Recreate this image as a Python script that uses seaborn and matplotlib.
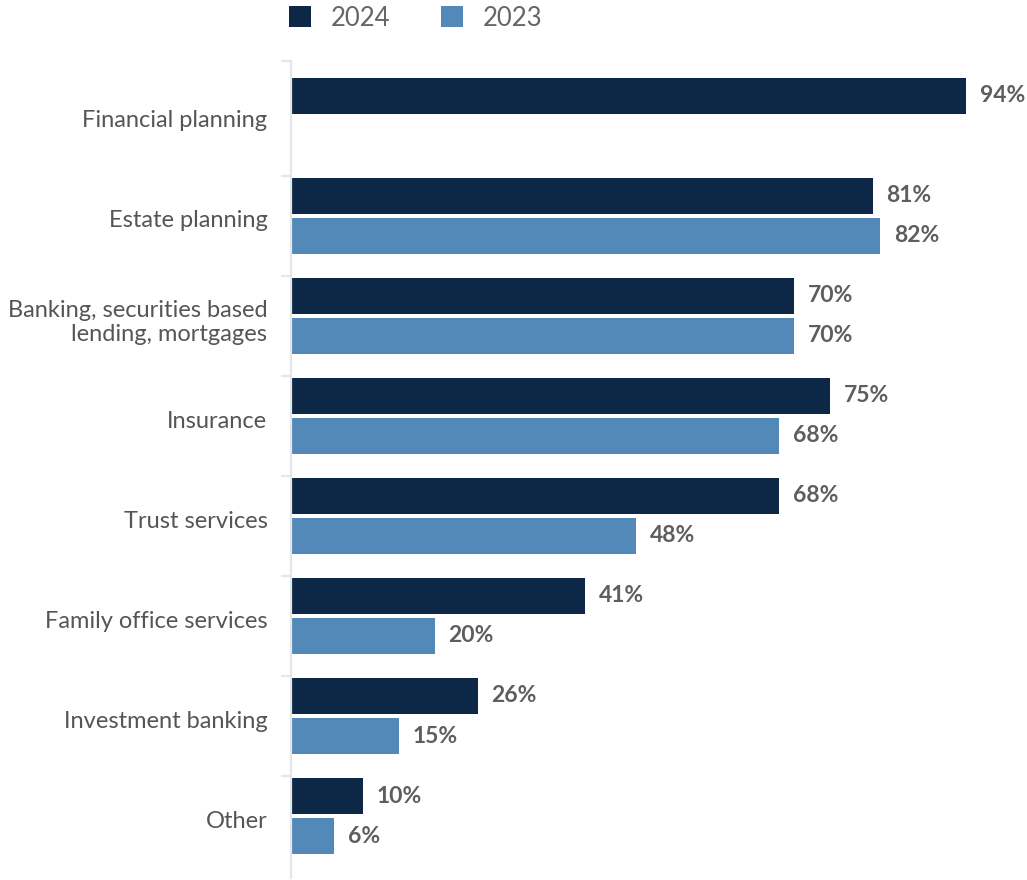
import matplotlib
matplotlib.use("Agg")
import matplotlib.pyplot as plt
import matplotlib.transforms as mtransforms
import seaborn as sns
import pandas as pd
import numpy as np

categories = [
    "Financial planning",
    "Estate planning",
    "Banking, securities based\nlending, mortgages",
    "Insurance",
    "Trust services",
    "Family office services",
    "Investment banking",
    "Other",
]
values_2024 = [94, 81, 70, 75, 68, 41, 26, 10]
values_2023 = [np.nan, 82, 70, 68, 48, 20, 15, 6]
years = ["2024", "2023"]

NAVY = "#0c2846"
STEEL = "#5289b8"
LABEL_GRAY = "#555555"
VALUE_GRAY = "#5e5e5e"
AXIS_GRAY = "#e3e7ec"

sns.set_theme(style="white")
plt.rcParams["font.family"] = ["Lato", "DejaVu Sans"]

df = pd.DataFrame({
    "category": categories * 2,
    "year": ["2024"] * len(categories) + ["2023"] * len(categories),
    "value": values_2024 + values_2023,
})

fig = plt.figure(figsize=(10.27, 8.8), dpi=100)
ax = fig.add_axes([291 / 1027, 2 / 880, (1009 - 291) / 1027, (878 - 61) / 880])

sns.barplot(
    data=df.dropna(), x="value", y="category", hue="year",
    order=categories, hue_order=years,
    palette={"2024": NAVY, "2023": STEEL},
    orient="h", width=0.8, gap=0.08, errorbar=None,
    saturation=1, linewidth=0, ax=ax,
)

ax.set_xlim(0, 100)
ax.set_ylim(7.62, -0.55)

# value labels beside each bar
for container in ax.containers:
    for patch in container:
        w = patch.get_width()
        if np.isnan(w):
            continue
        ax.annotate(
            f"{w:.0f}%",
            (w, patch.get_y() + patch.get_height() / 2),
            xytext=(10, 0), textcoords="offset points",
            ha="left", va="center",
            fontsize=16.5, fontweight="bold", color=VALUE_GRAY,
        )

# axis styling: only the left spine with small separator ticks
for side in ["top", "right", "bottom"]:
    ax.spines[side].set_visible(False)
ax.spines["left"].set_color(AXIS_GRAY)
ax.spines["left"].set_linewidth(1.6)
ax.set_xticks([])
ax.set_xlabel("")
ax.set_ylabel("")
ax.set_yticks(range(len(categories)))
ax.set_yticklabels(categories, fontsize=17, color=LABEL_GRAY, ha="right",
                   multialignment="right")
ax.tick_params(axis="y", which="major", length=0, pad=17)
shift = mtransforms.ScaledTranslation(0, -3 / 100, fig.dpi_scale_trans)
for lbl in ax.get_yticklabels():
    lbl.set_transform(lbl.get_transform() + shift)
ax.set_yticks([-0.55] + [i + 0.6 for i in range(len(categories) - 1)], minor=True)
ax.tick_params(axis="y", which="minor", length=7, width=1.6, color=AXIS_GRAY, left=True)

# legend across the top
handles, labels = ax.get_legend_handles_labels()
for h in handles:
    h.set_linewidth(0)
ax.legend(
    handles, labels, ncol=2, frameon=False,
    loc="center left", bbox_to_anchor=(279 / 1027, 1 - 18 / 880),
    bbox_transform=fig.transFigure,
    fontsize=18.5, labelcolor="#666666",
    handlelength=0.85, handleheight=0.85, handletextpad=0.75,
    columnspacing=2.0, borderaxespad=0,
)

fig.savefig("out.png", dpi=100)
